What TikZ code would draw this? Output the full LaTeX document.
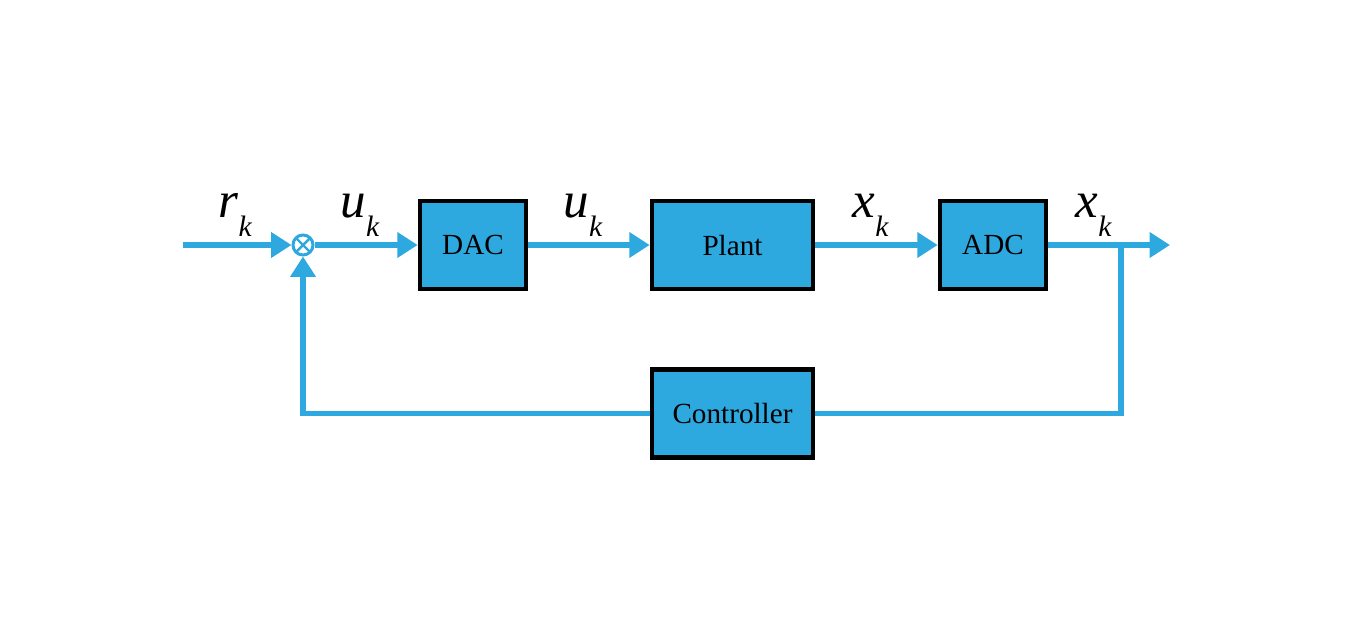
\documentclass[tikz,border=0pt]{standalone}
\usepackage{fontspec}
\setmainfont{Liberation Serif}
\usetikzlibrary{arrows.meta}
\definecolor{sigblue}{HTML}{2EA9E0}
\newcommand{\sigk}[1]{{\fontsize{14.5pt}{14pt}\selectfont\itshape #1}\raisebox{-5.6pt}{\fontsize{8.4pt}{8.4pt}\selectfont\itshape k}}
\tikzset{
  block/.style={draw=black,line width=1.3pt,fill=sigblue,
                font=\fontsize{8.3pt}{10pt}\selectfont,inner sep=0pt,text depth=-0.1cm},
  wire/.style={draw=sigblue,line width=1.55pt},
  sig/.style={wire,-{Triangle[length=5.8pt,width=7pt]}},
  siglabel/.style={anchor=base west,inner sep=0pt}
}
\begin{document}
\begin{tikzpicture}[x=0.01cm,y=-0.01cm]
  \useasboundingbox (0,0) rectangle (1355,624);

  % Blocks
  \node[block,minimum width=1.06cm,minimum height=0.88cm] (dac) at (473,245) {DAC};
  \node[block,minimum width=1.61cm,minimum height=0.88cm] (plant) at (732.5,245) {Plant};
  \node[block,minimum width=1.06cm,minimum height=0.88cm] (adc) at (993,245) {ADC};
  \node[block,minimum width=1.61cm,minimum height=0.88cm] (ctrl) at (732.5,413.5) {Controller};

  % Summing junction
  \node[circle,draw=sigblue,line width=0.85pt,fill=white,minimum size=0.2cm,inner sep=0pt,
        path picture={\draw[sigblue,line width=0.7pt]
          (path picture bounding box.north west) -- (path picture bounding box.south east)
          (path picture bounding box.north east) -- (path picture bounding box.south west);}]
        (sum) at (303,245) {};

  % Free ends
  \coordinate (in) at (183,245);
  \coordinate (out) at (1170,245);
  \coordinate (br) at (1121,245);

  % Forward path
  \draw[sig] (in) -- (sum.west);
  \draw[sig] (sum.east) -- (dac.west);
  \draw[sig] (dac.east) -- (plant.west);
  \draw[sig] (plant.east) -- (adc.west);
  \draw[sig] (adc.east) -- (out);

  % Feedback path
  \draw[wire] (br) |- (ctrl.east);
  \draw[sig] (ctrl.west) -| (sum.south);

  % Signal labels
  \node[siglabel] (lr) at (218,217) {\sigk{r}};
  \node[siglabel] (lu1) at (340,217) {\sigk{u}};
  \node[siglabel] (lu2) at (563,217) {\sigk{u}};
  \node[siglabel] (lx1) at (852,217) {\sigk{x}};
  \node[siglabel] (lx2) at (1075,217) {\sigk{x}};
\end{tikzpicture}
\end{document}
